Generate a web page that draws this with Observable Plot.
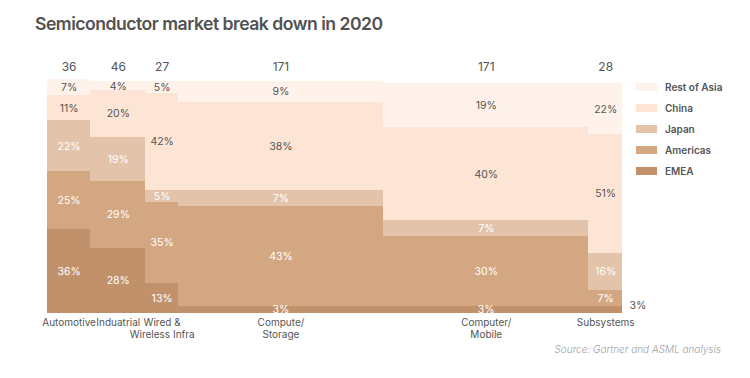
<!DOCTYPE html>
<html>
<head>
<meta charset="utf-8">
<script src="https://cdn.jsdelivr.net/npm/d3@7"></script>
<script src="https://cdn.jsdelivr.net/npm/@observablehq/plot@0.6"></script>
<style>
  html, body { margin: 0; padding: 0; background: #fff; }
  #wrap { position: relative; width: 750px; height: 378px; overflow: hidden; font-family: Inter, "Noto Sans", sans-serif; }
  #title { position: absolute; left: 35px; top: 13px; font-size: 17.6px; font-weight: 600; color: #525252; letter-spacing: -0.5px; white-space: nowrap; }
  #legend { position: absolute; left: 636px; top: 80px; }
  .li { position: absolute; left: 0; height: 14px; white-space: nowrap; }
  .sw { position: absolute; left: 0; top: 3px; width: 21px; height: 8px; }
  .lt { position: absolute; left: 29px; top: 0; font-size: 10px; font-weight: 600; color: #555; line-height: 14px; }
  #source { position: absolute; right: 29px; top: 343px; font-size: 10px; font-style: italic; color: #a0a0a0; font-weight: 300; white-space: nowrap; }
  #chart { position: absolute; left: 0; top: 0; }
</style>
</head>
<body>
<div id="wrap">
  <div id="chart"></div>
  <div id="title"></div>
  <div id="legend"></div>
  <div id="source"></div>
</div>
<script>
// ---- data ----
const titleText = "Semiconductor market break down in 2020";
const sourceText = "Source: Gartner and ASML analysis";
const categories = ["Automotive", "Induatrial", "Wired &\nWireless Infra", "Compute/\nStorage", "Computer/\nMobile", "Subsystems"];
const totals = [36, 46, 27, 171, 171, 28];
const regions = ["EMEA", "Americas", "Japan", "China", "Rest of Asia"]; // bottom to top
const emea = [36, 28, 13, 3, 3, 3];
const americas = [25, 29, 35, 43, 30, 7];
const japan = [22, 19, 5, 7, 7, 16];
const china = [11, 20, 42, 38, 40, 51];
const restOfAsia = [7, 4, 5, 9, 19, 22];
const regionColors = ["#c1916b", "#d3a782", "#e3c4ab", "#fde5d6", "#fef2ea"];
const labelColors = ["#ffffff", "#ffffff", "#ffffff", "#555555", "#555555"];

// ---- build tables ----
const shares = [emea, americas, japan, china, restOfAsia];
const cols = [];
let acc = 0;
categories.forEach((c, i) => {
  cols.push({cat: c, total: totals[i], x1: acc, x2: acc + totals[i], xm: acc + totals[i] / 2});
  acc += totals[i];
});
const xMax = acc;
const segs = [];
cols.forEach((col, i) => {
  let y = 0;
  regions.forEach((r, k) => {
    const v = shares[k][i];
    segs.push({cat: col.cat, region: r, k, v, x1: col.x1, x2: col.x2, xm: col.xm, y1: y, y2: y + v, ym: y + v / 2, col: i});
    y += v;
  });
});
const inside = segs.filter(d => !(d.col === categories.length - 1 && d.k === 0));
const outside = segs.filter(d => d.col === categories.length - 1 && d.k === 0);

const chart = Plot.plot({
  width: 750,
  height: 378,
  marginLeft: 47,
  marginRight: 128,
  marginTop: 81,
  marginBottom: 65,
  style: {fontFamily: "Inter, 'Noto Sans', sans-serif", background: "transparent"},
  x: {domain: [0, xMax], axis: null},
  y: {domain: [0, 100], axis: null},
  color: {domain: regions, range: regionColors},
  marks: [
    Plot.rectY(segs, {x1: "x1", x2: "x2", y1: "y1", y2: "y2", fill: "region", shapeRendering: "crispEdges"}),
    ...regions.map((r, k) => Plot.text(inside.filter(d => d.k === k), {
      x: "xm", y: "ym", text: d => d.v + "%", fill: labelColors[k], fontSize: 10.5
    })),
    Plot.text(outside, {x: "x2", y: "ym", text: d => d.v + "%", fill: "#555", fontSize: 10.5, textAnchor: "start", dx: 7, dy: -4}),
    Plot.text(cols, {x: "xm", y: 100, text: d => String(d.total), fill: "#555", fontSize: 12, dy: -14}),
    Plot.text(cols, {x: "xm", y: 0, text: "cat", fill: "#555", fontSize: 10, lineAnchor: "top", dy: 4, lineHeight: 1.2})
  ]
});
document.getElementById("chart").appendChild(chart);

document.getElementById("title").textContent = titleText;
document.getElementById("source").textContent = sourceText;
const legend = document.getElementById("legend");
const legendOrder = [...regions].reverse();
legendOrder.forEach((r, i) => {
  const row = document.createElement("div");
  row.className = "li";
  row.style.top = (i * 21) + "px";
  const sw = document.createElement("div");
  sw.className = "sw";
  sw.style.background = regionColors[regions.indexOf(r)];
  const lt = document.createElement("div");
  lt.className = "lt";
  lt.textContent = r;
  row.appendChild(sw); row.appendChild(lt);
  legend.appendChild(row);
});
</script>
</body>
</html>
